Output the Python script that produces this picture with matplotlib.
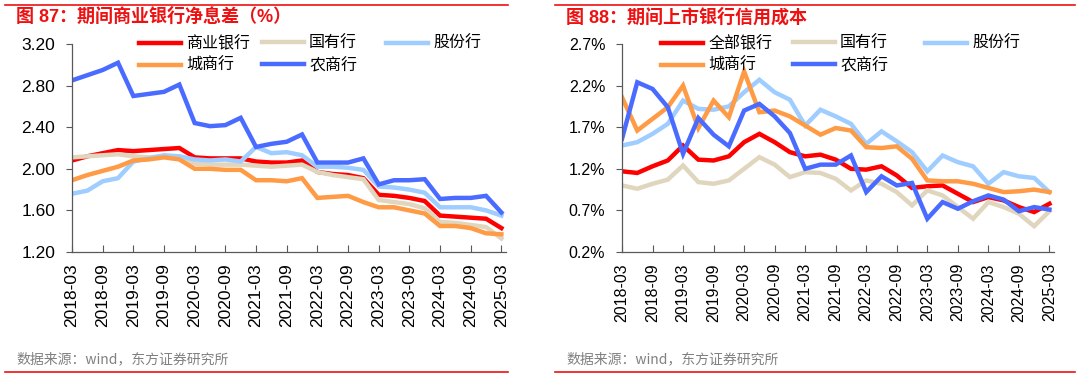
import matplotlib
matplotlib.use("Agg")
import matplotlib.pyplot as plt
from matplotlib.lines import Line2D
from matplotlib.ticker import FormatStrFormatter

plt.rcParams['font.family'] = ['Liberation Sans', 'Noto Sans CJK SC', 'DejaVu Sans']

# quarterly periods 2018-03 .. 2025-03
quarters = ['%d-%02d' % (y, m) for y in range(2018, 2026) for m in (3, 6, 9, 12)][:29]
tick_labels = quarters[::2]

# 图87 净息差 (%)
nim_all = [2.08, 2.12, 2.15, 2.18, 2.17, 2.18, 2.19, 2.20, 2.11, 2.10, 2.10, 2.10, 2.07, 2.06,
           2.06, 2.08, 1.97, 1.95, 1.94, 1.91, 1.75, 1.74, 1.72, 1.69, 1.55, 1.54, 1.53, 1.52, 1.43]
nim_big = [2.11, 2.12, 2.13, 2.14, 2.12, 2.11, 2.12, 2.12, 2.05, 2.04, 2.04, 2.04, 2.03, 2.02,
           2.03, 2.04, 1.97, 1.94, 1.92, 1.90, 1.70, 1.68, 1.66, 1.62, 1.49, 1.48, 1.46, 1.44, 1.33]
nim_jsb = [1.76, 1.79, 1.88, 1.91, 2.07, 2.10, 2.13, 2.12, 2.09, 2.08, 2.09, 2.07, 2.21, 2.15,
           2.16, 2.13, 2.02, 2.02, 2.01, 1.99, 1.83, 1.82, 1.80, 1.77, 1.63, 1.63, 1.63, 1.60, 1.55]
nim_city = [1.89, 1.94, 1.98, 2.02, 2.08, 2.09, 2.11, 2.09, 2.00, 2.00, 1.99, 1.99, 1.89, 1.89,
            1.88, 1.91, 1.72, 1.73, 1.74, 1.68, 1.63, 1.63, 1.60, 1.57, 1.45, 1.45, 1.43, 1.38, 1.37]
nim_rural = [2.85, 2.90, 2.95, 3.02, 2.70, 2.72, 2.74, 2.81, 2.44, 2.41, 2.42, 2.49, 2.21, 2.24,
             2.26, 2.33, 2.06, 2.06, 2.06, 2.10, 1.85, 1.89, 1.89, 1.90, 1.71, 1.72, 1.72, 1.74, 1.58]

# 图88 信用成本 (%)
cc_all = [1.17, 1.15, 1.23, 1.30, 1.48, 1.31, 1.30, 1.35, 1.52, 1.62, 1.52, 1.40, 1.35, 1.37,
          1.31, 1.20, 1.19, 1.23, 1.12, 0.97, 0.99, 1.00, 0.90, 0.80, 0.86, 0.82, 0.74, 0.68, 0.78]
cc_big = [1.00, 0.96, 1.02, 1.07, 1.24, 1.04, 1.02, 1.06, 1.20, 1.34, 1.25, 1.10, 1.16, 1.15,
          1.08, 0.94, 1.06, 1.02, 0.92, 0.76, 0.94, 0.88, 0.74, 0.60, 0.80, 0.74, 0.66, 0.51, 0.69]
cc_jsb = [1.48, 1.52, 1.62, 1.74, 2.02, 1.92, 1.91, 1.95, 2.12, 2.27, 2.12, 2.03, 1.72, 1.91,
          1.83, 1.74, 1.50, 1.65, 1.53, 1.40, 1.17, 1.36, 1.28, 1.23, 1.02, 1.16, 1.11, 1.09, 0.92]
cc_city = [2.06, 1.66, 1.80, 1.94, 2.20, 1.69, 2.02, 1.82, 2.37, 1.88, 1.90, 1.83, 1.72, 1.61,
           1.69, 1.66, 1.46, 1.45, 1.47, 1.32, 1.06, 1.05, 1.05, 1.02, 0.97, 0.92, 0.93, 0.95, 0.92]
cc_rural = [1.56, 2.24, 2.16, 1.94, 1.38, 1.81, 1.61, 1.47, 1.90, 1.98, 1.83, 1.63, 1.20, 1.25,
            1.25, 1.36, 0.92, 1.11, 1.00, 1.03, 0.60, 0.80, 0.72, 0.81, 0.88, 0.83, 0.69, 0.74, 0.71]

colors = ['#FF0000', '#E0D6BE', '#9FCDFF', '#FF9A45', '#4A6BFF']
red = '#EE1111'

W, H = 1080, 380
fig = plt.figure(figsize=(W / 100, H / 100), dpi=100)


def px_axes(l, t, r, b):
    return fig.add_axes([l / W, 1 - b / H, (r - l) / W, (b - t) / H])


def panel(ax, series, names, ylim, yticks, fmt, fs, leg_cols):
    x = list(range(len(quarters)))
    lines = []
    for s, c, n in zip(series, colors, names):
        lines += ax.plot(x, s, color=c, lw=3.2, label=n, solid_joinstyle='miter')
    ax.set_xlim(0, 28.3)
    ax.set_ylim(*ylim)
    ax.set_yticks(yticks)
    ax.yaxis.set_major_formatter(FormatStrFormatter(fmt))
    ax.set_xticks(x[::2])
    ax.set_xticklabels(tick_labels, rotation=90)
    for sp in ('top', 'right'):
        ax.spines[sp].set_visible(False)
    for sp in ('left', 'bottom'):
        ax.spines[sp].set_color('#595959')
        ax.spines[sp].set_linewidth(0.9)
    ax.tick_params(axis='x', direction='in', length=5, color='#595959', labelsize=fs, pad=8)
    ax.tick_params(axis='y', direction='out', length=4, color='#595959', labelsize=fs, pad=8)
    # legend laid out row-wise in equal-width columns
    groups = [[0, 3], [1, 4], [2]]
    for k, (gx, idx) in enumerate(zip(leg_cols, groups)):
        leg = ax.legend([lines[i] for i in idx], [names[i] for i in idx],
                        loc='upper left', bbox_to_anchor=(gx / W, 1 - 36 / H),
                        bbox_transform=fig.transFigure, frameon=False, fontsize=11.5,
                        handlelength=2.65, handletextpad=0.3, labelspacing=0.4,
                        borderpad=0, borderaxespad=0)
        if k < len(groups) - 1:
            ax.add_artist(leg)


ax1 = px_axes(72, 44, 506, 252)
panel(ax1, [nim_all, nim_big, nim_jsb, nim_city, nim_rural],
      ['商业银行', '国有行', '股份行', '城商行', '农商行'],
      (1.2, 3.2), [1.2, 1.6, 2.0, 2.4, 2.8, 3.2], '%.2f', 12.5, [139, 262, 386])

ax2 = px_axes(622, 44, 1054, 252)
panel(ax2, [cc_all, cc_big, cc_jsb, cc_city, cc_rural],
      ['全部银行', '国有行', '股份行', '城商行', '农商行'],
      (0.2, 2.7), [0.2, 0.7, 1.2, 1.7, 2.2, 2.7], '%.1f%%', 11.5, [661, 793, 925])

# titles, sources and red rules
for x0, x1, title in [(5, 508, '图 87：期间商业银行净息差（%）'),
                      (555, 1075, '图 88：期间上市银行信用成本')]:
    fig.add_artist(Line2D([x0 / W, x1 / W], [1 - 5 / H] * 2, color=red, lw=1.2))
    fig.add_artist(Line2D([x0 / W, x1 / W], [1 - 372 / H] * 2, color=red, lw=1.2))
    fig.text((x0 + 11) / W, 1 - 17 / H, title, color=red, fontsize=13, fontweight='bold',
             va='center', ha='left')
    fig.text((x0 + 11) / W, 1 - 359 / H, '数据来源：wind，东方证券研究所', color='#808080',
             fontsize=10, va='center', ha='left', family=['Noto Sans CJK SC', 'DejaVu Sans'])

fig.savefig('out.png', dpi=100)
